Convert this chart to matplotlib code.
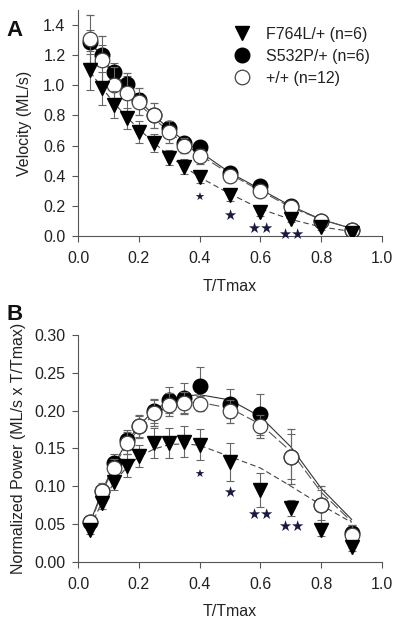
import matplotlib
matplotlib.use('Agg')
import matplotlib.pyplot as plt

# T/Tmax sampling points
t_rel = [0.04, 0.08, 0.12, 0.16, 0.2, 0.25, 0.3, 0.35, 0.4, 0.5, 0.6, 0.7, 0.8, 0.9]

# Panel A: velocity (ML/s)
vel_f764l = [1.10, 0.98, 0.87, 0.78, 0.69, 0.62, 0.52, 0.46, 0.39, 0.27, 0.16, 0.11, 0.06, 0.02]
vel_f764l_se = [0.13, 0.11, 0.09, 0.07, 0.07, 0.06, 0.05, 0.05, 0.04, 0.04, 0.03, 0.02, 0.02, 0.01]
vel_s532p = [1.29, 1.20, 1.09, 1.01, 0.90, 0.80, 0.72, 0.62, 0.59, 0.42, 0.33, 0.20, 0.10, 0.04]
vel_s532p_se = [0.08, 0.07, 0.06, 0.05, 0.05, 0.04, 0.03, 0.03, 0.03, 0.02, 0.02, 0.02, 0.01, 0.01]
vel_wt = [1.31, 1.17, 1.00, 0.95, 0.89, 0.80, 0.69, 0.60, 0.53, 0.40, 0.30, 0.19, 0.10, 0.04]
vel_wt_se = [0.16, 0.16, 0.12, 0.13, 0.09, 0.08, 0.07, 0.05, 0.05, 0.03, 0.03, 0.04, 0.02, 0.01]

# fitted curves
vel_fit_s532p = [1.30, 1.18, 1.08, 0.99, 0.90, 0.80, 0.71, 0.63, 0.56, 0.42, 0.31, 0.20, 0.11, 0.05]
vel_fit_wt = [1.29, 1.17, 1.06, 0.97, 0.88, 0.78, 0.69, 0.61, 0.54, 0.41, 0.30, 0.19, 0.11, 0.05]
vel_fit_f764l = [1.09, 0.98, 0.88, 0.79, 0.71, 0.62, 0.53, 0.46, 0.39, 0.28, 0.18, 0.11, 0.06, 0.03]

# Panel B: normalized power
pow_f764l = [0.042, 0.078, 0.105, 0.127, 0.140, 0.157, 0.157, 0.159, 0.155, 0.132, 0.095, 0.071, 0.042, 0.019]
pow_f764l_se = [0.005, 0.008, 0.010, 0.015, 0.015, 0.020, 0.020, 0.020, 0.021, 0.025, 0.023, 0.010, 0.008, 0.005]
pow_s532p = [0.052, 0.094, 0.130, 0.161, 0.179, 0.199, 0.214, 0.217, 0.232, 0.209, 0.195, 0.139, 0.075, 0.038]
pow_s532p_se = [0.005, 0.008, 0.012, 0.013, 0.014, 0.015, 0.017, 0.020, 0.026, 0.019, 0.027, 0.030, 0.020, 0.010]
pow_wt = [0.053, 0.094, 0.124, 0.157, 0.179, 0.197, 0.208, 0.210, 0.209, 0.199, 0.179, 0.139, 0.075, 0.035]
pow_wt_se = [0.006, 0.010, 0.012, 0.014, 0.015, 0.018, 0.015, 0.015, 0.010, 0.015, 0.015, 0.036, 0.025, 0.014]

pow_fit_s532p = [0.052, 0.094, 0.130, 0.158, 0.180, 0.200, 0.213, 0.219, 0.221, 0.214, 0.192, 0.152, 0.097, 0.056]
pow_fit_wt = [0.050, 0.092, 0.127, 0.155, 0.176, 0.195, 0.206, 0.211, 0.211, 0.203, 0.182, 0.146, 0.092, 0.053]
pow_fit_f764l = [0.045, 0.080, 0.105, 0.125, 0.139, 0.149, 0.155, 0.156, 0.154, 0.139, 0.124, 0.100, 0.075, 0.052]

# significance marks: (x, y, text, fontsize)
stars_a = [(0.4, 0.25, '★', 8), (0.5, 0.135, '★', 10.5), (0.6, 0.05, '★★', 10.5), (0.7, 0.01, '★★', 10.5)]
stars_b = [(0.4, 0.115, '★', 8), (0.5, 0.092, '★', 10.5), (0.6, 0.063, '★★', 10.5), (0.7, 0.046, '★★', 10.5)]

TXT = '#222222'
FS = 11.5
plt.rcParams['font.family'] = ['Liberation Sans', 'DejaVu Sans']
plt.rcParams['font.size'] = FS


def draw_panel(ax, f764l, f764l_se, s532p, s532p_se, wt, wt_se,
               fit_s, fit_w, fit_f, stars):
    ax.plot(t_rel, fit_s, '-', color='#333333', lw=0.8, zorder=2)
    ax.plot(t_rel, fit_w, '-', color='#555555', lw=0.8, dashes=(9, 3), zorder=2)
    ax.plot(t_rel, fit_f, '-', color='#444444', lw=0.8, dashes=(5, 3), zorder=2)

    ekw = dict(ecolor='#666666', elinewidth=0.8, capsize=3, capthick=0.8, linestyle='none')
    ax.errorbar(t_rel, s532p, yerr=s532p_se, marker='o', ms=10.5, mfc='black', mec='black',
                label='S532P/+ (n=6)', zorder=3, **ekw)
    ax.errorbar(t_rel, wt, yerr=wt_se, marker='o', ms=10.5, mfc='white', mec='#444444', mew=0.9,
                label='+/+ (n=12)', zorder=4, **ekw)
    ax.errorbar(t_rel, f764l, yerr=f764l_se, marker='v', ms=10.5, mfc='black', mec='black',
                label='F764L/+ (n=6)', zorder=5, **ekw)

    for x, y, s, fs in stars:
        ax.text(x, y, s, ha='center', va='center', fontsize=fs, color='#1a1a40',
                family='DejaVu Sans', zorder=6)

    ax.set_xlim(0, 1.0)
    ax.set_xticks([0.0, 0.2, 0.4, 0.6, 0.8, 1.0])
    ax.set_xticklabels(['0.0', '0.2', '0.4', '0.6', '0.8', '1.0'])
    ax.set_xlabel('T/Tmax', color=TXT, fontsize=FS, labelpad=9)
    for side in ['top', 'right']:
        ax.spines[side].set_visible(False)
    for side in ['left', 'bottom']:
        ax.spines[side].set_color('#555555')
        ax.spines[side].set_linewidth(0.8)
    ax.tick_params(direction='out', length=4, width=0.8, color='#555555',
                   labelcolor=TXT, labelsize=FS)
    ax.tick_params(axis='x', pad=7)
    ax.tick_params(axis='y', pad=5)


fig = plt.figure(figsize=(4, 6.25), dpi=100)

ax_a = fig.add_axes([0.195, 0.6224, 0.76, 0.3616])
draw_panel(ax_a, vel_f764l, vel_f764l_se, vel_s532p, vel_s532p_se, vel_wt, vel_wt_se,
           vel_fit_s532p, vel_fit_wt, vel_fit_f764l, stars_a)
ax_a.set_ylim(0, 1.5)
ax_a.set_yticks([0.0, 0.2, 0.4, 0.6, 0.8, 1.0, 1.2, 1.4])
ax_a.set_yticklabels(['0.0', '0.2', '0.4', '0.6', '0.8', '1.0', '1.2', '1.4'])
ax_a.set_ylabel('Velocity (ML/s)', color=TXT, fontsize=FS, labelpad=8)
handles, labels = ax_a.get_legend_handles_labels()
order = [2, 0, 1]
ax_a.legend([handles[i][0] for i in order], [labels[i] for i in order],
            loc='upper left', bbox_to_anchor=(0.44, 0.99), frameon=False,
            fontsize=FS, handletextpad=0.5, labelspacing=0.45, labelcolor=TXT)

ax_b = fig.add_axes([0.195, 0.1013, 0.76, 0.3627])
draw_panel(ax_b, pow_f764l, pow_f764l_se, pow_s532p, pow_s532p_se, pow_wt, pow_wt_se,
           pow_fit_s532p, pow_fit_wt, pow_fit_f764l, stars_b)
ax_b.set_ylim(0, 0.30)
ax_b.set_yticks([0.0, 0.05, 0.10, 0.15, 0.20, 0.25, 0.30])
ax_b.set_yticklabels(['0.00', '0.05', '0.10', '0.15', '0.20', '0.25', '0.30'])
ax_b.set_ylabel('Normalized Power (ML/s x T/Tmax)', color=TXT, fontsize=FS, labelpad=6)

fig.text(0.037, 0.952, 'A', fontsize=16, fontweight='bold', color='#111111', ha='center', va='center')
fig.text(0.037, 0.497, 'B', fontsize=16, fontweight='bold', color='#111111', ha='center', va='center')

fig.savefig('out.png', dpi=100)
